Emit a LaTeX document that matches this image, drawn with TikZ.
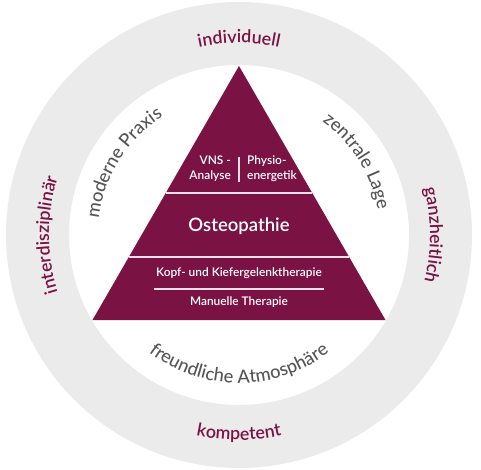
\documentclass[tikz,border=0pt]{standalone}
\usepackage{fontspec}
\setmainfont{Lato}
\newfontfamily\halbfett{Lato Semibold}
\newfontfamily\mittel{Lato Medium}
\usetikzlibrary{decorations.text}
\definecolor{weinrot}{HTML}{7A1243}
\definecolor{ringgrau}{HTML}{EBEBEB}
\definecolor{textgrau}{HTML}{555555}
\definecolor{trennlinie}{HTML}{F2E0E8}
\newcommand{\ringfont}{\fontsize{17.8}{20}\halbfett\color{weinrot}}
\newcommand{\innenfont}{\fontsize{18.3}{20}\mittel\color{textgrau}}
\tikzset{
  ringwort/.style={decorate,decoration={text along path,text align=center,text={|\ringfont|#1}}},
  innenwort/.style={decorate,decoration={text along path,text align=center,text={|\innenfont|#1}}},
  stufe/.style={text=white,font=\halbfett\fontsize{11.9}{15}\selectfont,inner sep=0pt},
  linie/.style={trennlinie,line width=1.2pt}
}
\begin{document}
\begin{tikzpicture}[x=1pt,y=1pt]
			\useasboundingbox (-239,-234) rectangle (242,235);
			\fill[ringgrau,even odd rule] (0,0) circle (233) (0,0) circle (170);
			\fill[weinrot] (0,169) -- (146.5,-85) -- (-146.5,-85) -- cycle;
			
			\draw[linie] (-73.2,42) -- (73.2,42);
			\draw[linie] (-110.2,-22) -- (110.2,-22);
			\draw[linie] (-85,-54) -- (85,-54);
			\draw[linie] (0,78) -- (0,53);
			
			\node[stufe,anchor=east,align=right] (vns) at (-8,66) {VNS -\\Analyse};
			\node[stufe,anchor=west,align=left] (physio) at (8,66) {Physio-\\energetik};
			\node[stufe,font=\halbfett\fontsize{18.5}{22}\selectfont] (osteo) at (0,9) {Osteopathie};
			\node[stufe] (kopf) at (0,-38) {Kopf- und Kiefergelenktherapie};
			\node[stufe] (manuell) at (0,-67) {Manuelle Therapie};
			
			\path[ringwort=individuell] (180:192) arc[start angle=180,end angle=0,radius=192];
			\path[ringwort=interdisziplinär] (270:190) arc[start angle=270,end angle=90,radius=190];
			\path[ringwort=ganzheitlich] (90:191) arc[start angle=90,end angle=-90,radius=191];
			\path[ringwort=kompetent] (180:205) arc[start angle=180,end angle=360,radius=205];
			
			\path[innenwort=moderne Praxis] (238:141) arc[start angle=238,end angle=58,radius=141];
			\path[innenwort=zentrale Lage] (122:141) arc[start angle=122,end angle=-58,radius=141];
			\path[innenwort=freundliche Atmosphäre] (180:148) arc[start angle=180,end angle=360,radius=148];
		\end{tikzpicture}
\end{document}
